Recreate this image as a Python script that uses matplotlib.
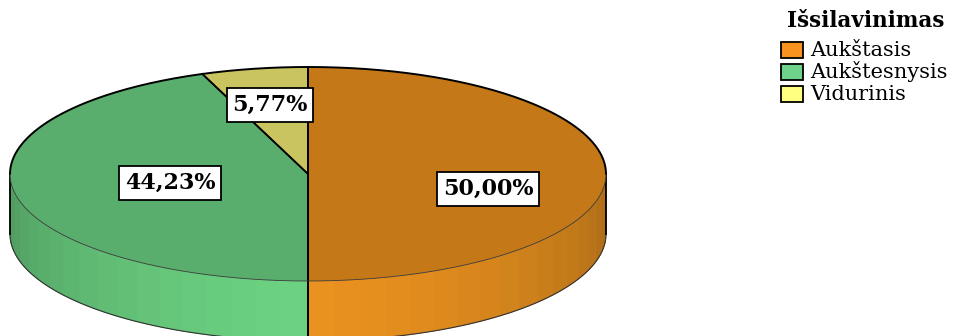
import numpy as np
import matplotlib.pyplot as plt
from matplotlib.patches import Polygon, Rectangle
from matplotlib.colors import to_rgb

# data
labels = ['Aukštasis', 'Aukštesnysis', 'Vidurinis']
values = [50.00, 44.23, 5.77]
pct_text = ['50,00%', '44,23%', '5,77%']
legend_title = 'Išsilavinimas'

top_colors = ['#C57817', '#59AE6D', '#C9C45F']
side_colors = ['#EA921F', '#6CD382', '#E8E070']
legend_colors = ['#F7931E', '#6ED38A', '#FFFF80']
label_pos = [(488, 189), (170, 183), (270, 105)]

W, H = 956, 336
cx, cy = 308, 174     # centre of top ellipse (pixels)
a, b = 298, 107       # semi axes
depth = 60            # thickness of the disc

fig = plt.figure(figsize=(9.56, 3.36), dpi=100)
ax = fig.add_axes([0, 0, 1, 1])
ax.set_xlim(0, W)
ax.set_ylim(H, 0)
ax.axis('off')


def arc(t1, t2, dy=0, n=60):
    t = np.radians(np.linspace(t1, t2, n))
    return np.column_stack([cx + a * np.sin(t), cy - b * np.cos(t) + dy])


total = sum(values)
ends = np.cumsum(values) / total * 360
starts = np.concatenate([[0], ends[:-1]])

# side wall (only front half visible: 90..270 deg, clockwise from top)
for s, e, col in zip(starts, ends, side_colors):
    lo, hi = max(s, 90), min(e, 270)
    if lo >= hi:
        continue
    edges = np.arange(lo, hi, 5.0)
    edges = np.append(edges, hi)
    for t1, t2 in zip(edges[:-1], edges[1:]):
        d = abs((t1 + t2) / 2 - 180) / 90
        f = 1 - 0.28 * d ** 1.3
        c = np.clip(np.array(to_rgb(col)) * f, 0, 1)
        pts = np.vstack([arc(t1, t2, 0, 8), arc(t2, t1, depth, 8)])
        ax.add_patch(Polygon(pts, closed=True, fc=c, ec=c, lw=0.6, zorder=1))
    # boundary lines on side
    for t in (s, e):
        if 90 < t < 270:
            p = arc(t, t, 0, 2)[0]
            ax.plot([p[0], p[0]], [p[1], p[1] + depth], color='black', lw=1.2, zorder=2)

# side outline
bot = arc(90, 270, depth, 120)
ax.plot(bot[:, 0], bot[:, 1], color='#333333', lw=0.8, zorder=2)
for t in (90, 270):
    p = arc(t, t, 0, 2)[0]
    ax.plot([p[0], p[0]], [p[1], p[1] + depth], color='black', lw=1.3, zorder=2)

# top face
for s, e, col in zip(starts, ends, top_colors):
    pts = np.vstack([[cx, cy], arc(s, e, 0, 100)])
    ax.add_patch(Polygon(pts, closed=True, fc=col, ec='none', zorder=3))
    for t in (s, e):
        p = arc(t, t, 0, 2)[0]
        ax.plot([cx, p[0]], [cy, p[1]], color='black', lw=1.2, zorder=4)
back = arc(-90, 90, 0, 200)
ax.plot(back[:, 0], back[:, 1], color='black', lw=1.4, zorder=4)
front = arc(90, 270, 0, 200)
ax.plot(front[:, 0], front[:, 1], color='#3a3a3a', lw=0.6, zorder=4)

# value labels
for (x, y), txt in zip(label_pos, pct_text):
    ax.text(x, y, txt, ha='center', va='center', fontsize=16, fontweight='bold',
            family='DejaVu Serif', zorder=5,
            bbox=dict(boxstyle='square,pad=0.25', fc='white', ec='black', lw=1.3))

# legend
ax.text(866, 21, legend_title, ha='center', va='center', fontsize=15.5,
        fontweight='bold', family='DejaVu Serif')
for i, (lab, col) in enumerate(zip(labels, legend_colors)):
    yc = 50 + i * 22
    ax.add_patch(Rectangle((781, yc - 8), 22, 16, fc=col, ec='black', lw=1.3))
    ax.text(810, yc, lab, ha='left', va='center', fontsize=15, family='DejaVu Serif')

fig.savefig('out.png', dpi=100)
